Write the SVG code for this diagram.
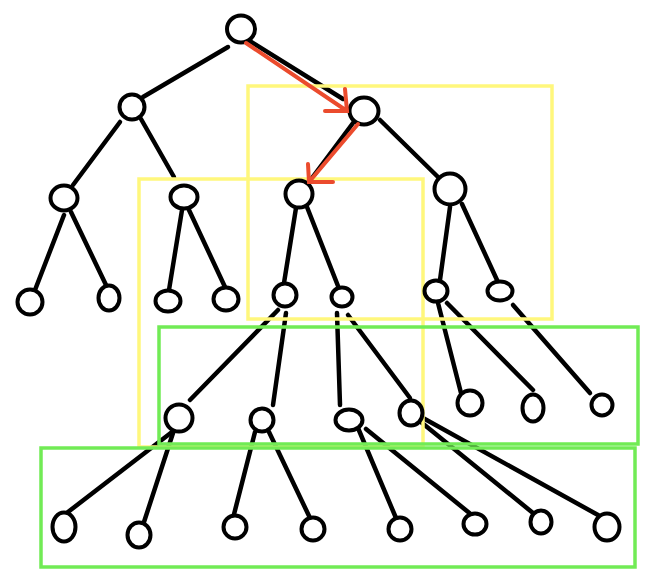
<svg xmlns="http://www.w3.org/2000/svg" width="646" height="582" viewBox="0 0 646 582">
<style>
.e{stroke:#000;stroke-width:4.5;stroke-linecap:round;fill:none}
.n ellipse{fill:#fff;stroke:#000;stroke-width:4}
.y{fill:none;stroke:#FFF77C;stroke-width:3.5}
.g{fill:none;stroke:#71EB55;stroke-width:3.5}
.r{fill:none;stroke:#EB4B2D;stroke-width:4;stroke-linecap:round;stroke-linejoin:miter}
</style>
<rect width="646" height="582" fill="#fff"/>
<g id="connectors">
<line class="e" x1="228" y1="47" x2="143" y2="97"/>
<line class="e" x1="248" y1="40" x2="343" y2="99"/>
<line class="e" x1="120" y1="122" x2="73" y2="185"/>
<line class="e" x1="141" y1="119" x2="174" y2="177"/>
<line class="e" x1="353" y1="123" x2="312" y2="178"/>
<line class="e" x1="380" y1="120" x2="438" y2="177"/>
<line class="e" x1="64" y1="215" x2="35" y2="290"/>
<line class="e" x1="71" y1="212" x2="106" y2="285"/>
<line class="e" x1="182" y1="210" x2="169" y2="290"/>
<line class="e" x1="189" y1="210" x2="225" y2="287"/>
<line class="e" x1="296" y1="208" x2="284" y2="283"/>
<line class="e" x1="307" y1="207" x2="338" y2="286"/>
<line class="e" x1="450" y1="207" x2="440" y2="280"/>
<line class="e" x1="462" y1="204" x2="497" y2="280"/>
<line class="e" x1="278" y1="310" x2="190" y2="400"/>
<line class="e" x1="286" y1="313" x2="273" y2="405"/>
<line class="e" x1="337" y1="313" x2="340" y2="405"/>
<line class="e" x1="348" y1="315" x2="410" y2="398"/>
<line class="e" x1="438" y1="303" x2="461" y2="393"/>
<line class="e" x1="447" y1="303" x2="533" y2="390"/>
<line class="e" x1="513" y1="305" x2="590" y2="393"/>
<line class="e" x1="172" y1="432" x2="68" y2="512"/>
<line class="e" x1="173" y1="433" x2="144" y2="522"/>
<line class="e" x1="255" y1="432" x2="230" y2="530"/>
<line class="e" x1="269" y1="432" x2="310" y2="518"/>
<line class="e" x1="358" y1="428" x2="396" y2="518"/>
<line class="e" x1="366" y1="429" x2="478" y2="520"/>
<line class="e" x1="416" y1="418" x2="533" y2="513"/>
<line class="e" x1="423" y1="418" x2="598" y2="515"/>
</g>
<g id="regions">
<rect class="y" x="248" y="86" width="304" height="233"/>
<rect class="y" x="139" y="179" width="284" height="268"/>
<rect class="g" x="159" y="327" width="479" height="117"/>
<rect class="g" x="41" y="448" width="594" height="119"/>
</g>
<g class="n">
<g id="n0"><ellipse cx="241" cy="29" rx="14" ry="13.5"/></g>
<g id="n1"><ellipse cx="132" cy="107" rx="12.5" ry="12.5"/></g>
<g id="n2"><ellipse cx="364" cy="111" rx="14.5" ry="13.5"/></g>
<g id="n3"><ellipse cx="64" cy="198" rx="13.5" ry="12.5"/></g>
<g id="n4"><ellipse cx="184" cy="197" rx="13.5" ry="11.5"/></g>
<g id="n5"><ellipse cx="299" cy="194" rx="13.5" ry="13.5"/></g>
<g id="n6"><ellipse cx="450" cy="189" rx="15.5" ry="15.5"/></g>
<g id="n7"><ellipse cx="30" cy="302" rx="12.5" ry="12.5"/></g>
<g id="n8"><ellipse cx="109" cy="298" rx="10.5" ry="12.5"/></g>
<g id="n9"><ellipse cx="168" cy="301" rx="12.5" ry="10.5"/></g>
<g id="n10"><ellipse cx="226" cy="299" rx="12.5" ry="11.5"/></g>
<g id="n11"><ellipse cx="285" cy="295" rx="11.5" ry="11.5"/></g>
<g id="n12"><ellipse cx="342" cy="297" rx="10.5" ry="9.5"/></g>
<g id="n13"><ellipse cx="436" cy="291" rx="11.5" ry="10.5"/></g>
<g id="n14"><ellipse cx="500" cy="291" rx="12.5" ry="9.5"/></g>
<g id="n15"><ellipse cx="179" cy="418" rx="13.5" ry="13.5"/></g>
<g id="n16"><ellipse cx="262" cy="420" rx="11.5" ry="11.5"/></g>
<g id="n17"><ellipse cx="349" cy="420" rx="13.5" ry="10.5"/></g>
<g id="n18"><ellipse cx="411" cy="413" rx="11.5" ry="12.5"/></g>
<g id="n19"><ellipse cx="470" cy="403" rx="12.5" ry="12.5"/></g>
<g id="n20"><ellipse cx="533" cy="408" rx="10.5" ry="13.5"/></g>
<g id="n21"><ellipse cx="602" cy="405" rx="10.5" ry="10.5"/></g>
<g id="n22"><ellipse cx="64" cy="527" rx="11.5" ry="14.5"/></g>
<g id="n23"><ellipse cx="139" cy="535" rx="11.5" ry="12.5"/></g>
<g id="n24"><ellipse cx="235" cy="527" rx="11.5" ry="11.5"/></g>
<g id="n25"><ellipse cx="313" cy="529" rx="11.5" ry="11.5"/></g>
<g id="n26"><ellipse cx="400" cy="529" rx="11.5" ry="11.5"/></g>
<g id="n27"><ellipse cx="475" cy="524" rx="11.5" ry="10.5"/></g>
<g id="n28"><ellipse cx="541" cy="522" rx="10.5" ry="11.5"/></g>
<g id="n29"><ellipse cx="607" cy="527" rx="12.5" ry="13.5"/></g>
</g>
<g id="path-arrows">
<path class="r" d="M246,43 L347,111 M325,111 L347,111 L345,89"/>
<path class="r" d="M358,124 L309,182 M308,164 L309,182 L333,182"/>
</g>
</svg>
